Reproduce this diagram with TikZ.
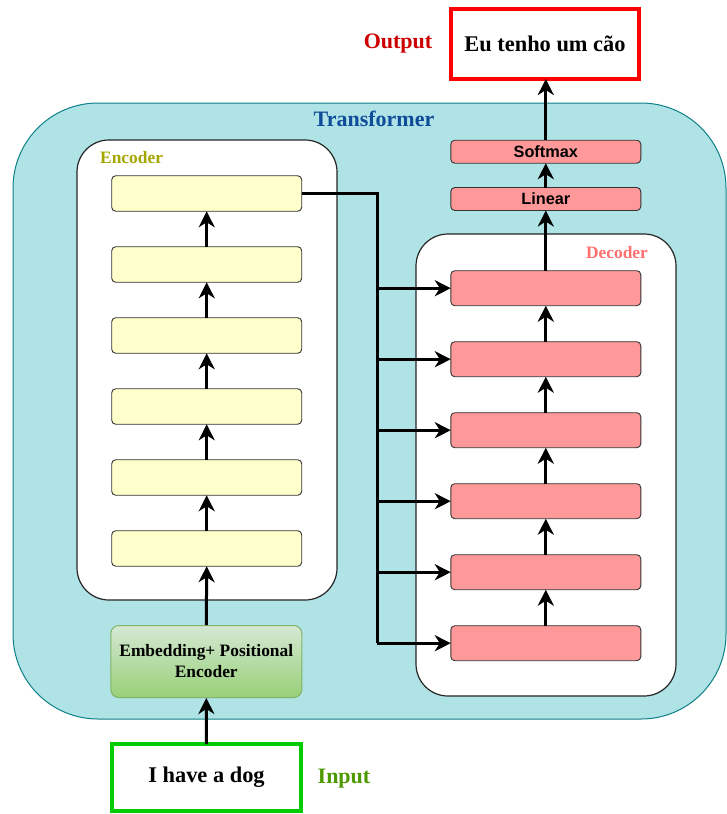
\documentclass[tikz,border=0pt]{standalone}
\usepackage{fontspec}
\setmainfont{Liberation Serif}
\newfontfamily\arialfont{Liberation Sans}
\usetikzlibrary{arrows.meta,positioning}

\definecolor{trfill}{HTML}{B0E3E6}
\definecolor{trline}{HTML}{0E8088}
\definecolor{trtext}{HTML}{0F4C99}
\definecolor{enctext}{HTML}{A6A600}
\definecolor{dectext}{HTML}{FF7070}
\definecolor{outtext}{HTML}{CC0000}
\definecolor{intext}{HTML}{4D9900}
\definecolor{encfill}{HTML}{FFFFCC}
\definecolor{decfill}{HTML}{FF9999}
\definecolor{embtop}{HTML}{D5E8D4}
\definecolor{embbot}{HTML}{97D077}
\definecolor{embline}{HTML}{82B366}
\definecolor{inline}{HTML}{00CC00}
\definecolor{outline}{HTML}{FF0000}

\tikzset{
  container/.style={draw=black!85, fill=white, line width=1.2pt, rounded corners=32pt,
    inner sep=0pt, outer sep=0pt},
  encblock/.style={draw=black!80, fill=encfill, line width=0.9pt, rounded corners=4pt,
    minimum width=190pt, minimum height=35.5pt, inner sep=0pt, outer sep=0pt},
  decblock/.style={draw=black!80, fill=decfill, line width=0.9pt, rounded corners=4pt,
    minimum width=190pt, minimum height=35pt, inner sep=0pt, outer sep=0pt},
  headblock/.style={decblock, minimum height=23pt,
    font=\arialfont\bfseries\fontsize{16.3}{18}\selectfont},
  label/.style={font=\bfseries\fontsize{17.4}{20}\selectfont, inner sep=0pt},
  biglabel/.style={font=\bfseries\fontsize{22}{26}\selectfont, inner sep=0pt},
  iobox/.style={line width=4pt, fill=white, inner sep=0pt, outer sep=0pt,
    font=\bfseries\fontsize{22.4}{26}\selectfont},
  arr/.style={line width=3pt, -{Stealth[length=16pt,width=16pt,inset=5pt]}},
  bus/.style={line width=3pt},
}

\begin{document}
\begin{tikzpicture}[x=1pt,y=-1pt]
\useasboundingbox (0,0) rectangle (727,814);

% Transformer frame
\node[draw=trline, fill=trfill, line width=1pt, rounded corners=85pt,
  minimum width=713pt, minimum height=616pt, inner sep=0pt] (tr) at (369.5,411) {};
\node[biglabel, text=trtext] (trlab) at (374,119) {Transformer};

% Encoder stack
\node[container, minimum width=260pt, minimum height=460pt] (enc) at (207,370) {};
\node[label, text=enctext, anchor=west] (enclab) at (100,158) {Encoder};
\foreach \i in {1,...,6} {
  \node[encblock] (e\i) at (206.7,{548.5-71*(\i-1)}) {};
}

% Decoder stack
\node[container, minimum width=260pt, minimum height=462pt] (dec) at (546,465) {};
\node[label, text=dectext] (declab) at (617,253) {Decoder};
\foreach \i in {1,...,6} {
  \node[decblock] (d\i) at (545.8,{643.2-71*(\i-1)}) {};
}

% Output head
\node[headblock] (lin) at (545.8,199) {Linear};
\node[headblock] (soft) at (545.8,151.7) {Softmax};

% Embedding
\node[draw=embline, line width=1pt, rounded corners=8pt, top color=embtop, bottom color=embbot,
  minimum width=191pt, minimum height=72pt, inner sep=0pt, align=center,
  font=\bfseries\fontsize{17.4}{21}\selectfont] (emb) at (206.3,661.5)
  {Embedding+ Positional\\Encoder};

% Input and output sentences
\node[iobox, draw=inline, minimum width=189pt, minimum height=67pt] (in) at (206.5,777.5) {I have a dog};
\node[biglabel, text=intext] (inlab) at (344,779) {Input};
\node[iobox, draw=outline, minimum width=188pt, minimum height=70pt] (out) at (545,44) {Eu tenho um c\~ao};
\node[biglabel, text=outtext] (outlab) at (398,44) {Output};

% Connectors
\draw[arr] (in.north) -- (emb.south);
\draw[arr] (emb.north) -- (e1.south);
\foreach \i [evaluate=\i as \j using int(\i+1)] in {1,...,5} {
  \draw[arr] (e\i.north) -- (e\j.south);
  \draw[arr] (d\i.north) -- (d\j.south);
}
\draw[arr] (d6.north) -- (lin.south);
\draw[arr] (lin.north) -- (soft.south);
\draw[arr] (soft.north) -- (soft.north |- out.south);

% Encoder output bus feeding every decoder layer
\coordinate (busbot) at (377,643.2);
\draw[bus, line join=miter] (e6.east) -| (busbot);
\foreach \i in {1,...,6} {
  \draw[arr] (busbot |- d\i.west) -- (d\i.west);
}
\end{tikzpicture}
\end{document}
